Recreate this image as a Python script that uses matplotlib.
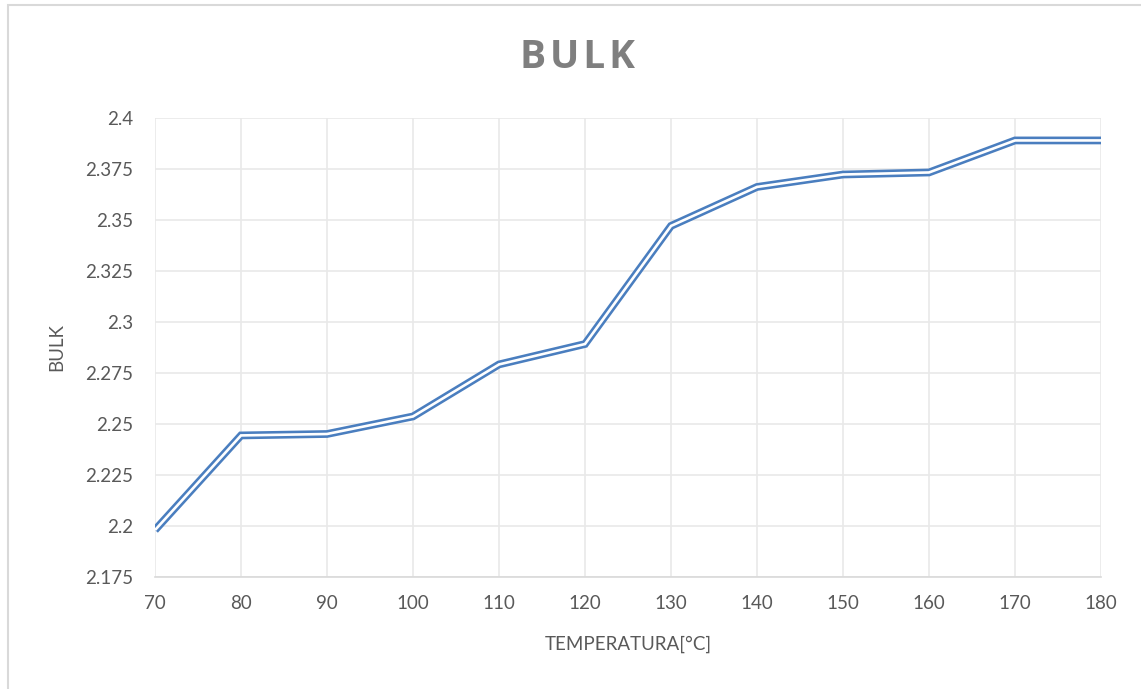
import matplotlib
matplotlib.use("Agg")
import matplotlib.pyplot as plt
from matplotlib.patches import Rectangle
from matplotlib.ticker import FuncFormatter, MultipleLocator

# data
temperatura = [70, 80, 90, 100, 110, 120, 130, 140, 150, 160, 170, 180]
bulk = [2.198, 2.2444, 2.2451, 2.2537, 2.2792, 2.2892, 2.3471, 2.3662,
        2.3723, 2.3733, 2.389, 2.389]
x_ticks = [70, 80, 90, 100, 110, 120, 130, 140, 150, 160, 170, 180]

plt.rcParams['font.family'] = ['Lato', 'DejaVu Sans']
txt = '#595959'
grid = '#e9e9e9'
blue = '#4a7ebf'

fig = plt.figure(figsize=(11.41, 6.89), dpi=100)
fig.patches.append(Rectangle((8 / 1141, -0.05), 1.1, 0.05 + 684 / 689,
                             transform=fig.transFigure, fill=False,
                             edgecolor='#d9d9d9', linewidth=1.5))

ax = fig.add_axes([155 / 1141, 112 / 689, 946 / 1141, 459 / 689])

# compound (double) line: thick blue with a white core
ax.plot(temperatura, bulk, color=blue, linewidth=5.6, solid_joinstyle='miter',
        solid_capstyle='butt', zorder=3)
ax.plot(temperatura, bulk, color='white', linewidth=1.9, solid_joinstyle='miter',
        solid_capstyle='butt', zorder=4)

ax.set_xlim(70, 180)
ax.set_ylim(2.175, 2.4)
ax.set_xticks(x_ticks)
ax.yaxis.set_major_locator(MultipleLocator(0.025))
ax.yaxis.set_major_formatter(FuncFormatter(lambda v, p: '{:g}'.format(round(v, 3))))

ax.grid(True, color=grid, linewidth=1.2)
ax.set_axisbelow(True)
for s in ['top', 'right', 'left']:
    ax.spines[s].set_visible(False)
ax.spines['bottom'].set_color('#d9d9d9')
ax.spines['bottom'].set_linewidth(1.2)
ax.tick_params(axis='both', length=0, labelsize=13.5, labelcolor=txt)
ax.tick_params(axis='y', pad=16)
ax.tick_params(axis='x', pad=13)

ax.set_xlabel('TEMPERATURA[°C]', fontsize=13.5, color=txt, labelpad=17)
ax.set_ylabel('BULK', fontsize=13.5, color=txt, labelpad=14)

fig.text(577 / 1141, 1 - 57 / 689, 'B\u200aU\u200aL\u200aK', ha='center', va='center',
         fontsize=28, fontweight='bold', color='#7f7f7f',
         family=['Open Sans', 'DejaVu Sans'])

fig.savefig('out.png', dpi=100)
